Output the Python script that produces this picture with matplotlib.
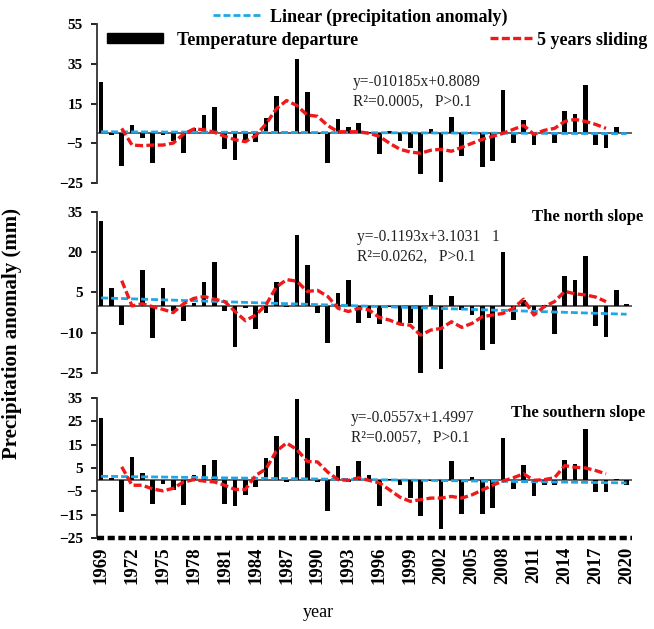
import numpy as np
import matplotlib
matplotlib.use("Agg")
from matplotlib import pyplot as plt
from matplotlib.lines import Line2D
from matplotlib.patches import Patch

plt.rcParams['font.family'] = ['Liberation Serif', 'DejaVu Serif']

years = list(range(1969, 2021))

# whole area
whole = [26, -0.7, -16.3, 4.2, -2.5, -15, -0.8, -3.7, -9.7, 2.5,
         9, 13.5, -8, -13.4, -4.5, -4.5, 7.5, 18.6, 0.3, 37.5,
         20.7, -0.5, -15, 7.2, 3.4, 5, 0.8, -10.6, 1.3, -3.7,
         -7.6, -20.7, 2.2, -24.4, 8.4, -11.6, 0.8, -17, -13.8, 22,
         -4.9, 6.9, -5.9, -0.5, -4.9, 11.4, 9.7, 24.4, -5.9, -7.6,
         3.2, 0.3]
whole_slide = [2.5, -5.9, -6.2, -5.9, -5.9, -4.9, -0.3, 2.2, 1.8, 0.5,
               -1.5, -3.2, -4.2, -1.2, 4.7, 12.3, 16.5, 14, 9.2, 8.6,
               3.9, 0.8, 0.8, 0.8, 0, -1.5, -5, -8, -9.4, -10,
               -8.5, -8, -9, -7, -5, -3, -1.5, 0, 2, 4,
               -0.5, 1.5, 2.5, 6, 7, 6, 4.5, 2.5]

# north slope
north = [31.6, 6.8, -7.3, 0.8, 13.3, -11.9, 6.8, -1.8, -5.6, 1,
         8.9, 16.4, -1.9, -15.3, -0.9, -8.5, -2.5, 8.8, -0.3, 26.3,
         15.4, -2.5, -13.8, 4.8, 9.8, -6.5, -4.6, -6.8, -0.5, -7.2,
         -6.3, -25, 4.1, -23.5, 3.8, -1.5, -3.4, -16.6, -14.3, 20.2,
         -5.3, 2.3, -3.4, 0.5, -10.3, 11, 9.5, 18.6, -7.5, -11.5,
         5.8, 0.6]
north_slide = [9.4, 0, 0.8, -0.3, -1.3, -2.5, 0.8, 2.8, 3.5, 2.5,
               1.6, -2.1, -5.5, -3.4, 0.4, 7, 9.8, 9.2, 5.4, 5.8,
               3.5, -0.9, -2.1, -0.9, -1.5, -4.3, -5.3, -6.8, -7.2, -10.9,
               -9, -8.4, -5.9, -8, -6.5, -4, -3.4, -2.8, -0.9, 2.5,
               -3.4, -0.3, 1.6, 5.4, 4.5, 4.1, 3.3, 1.6]

# southern slope
south = [26.3, 0.8, -13.9, 9.7, 3, -10.4, -1.7, -4.4, -10.7, 1.8,
         6.4, 8.6, -10.4, -11.4, -6.5, -3, 9.4, 18.7, -1, 34.6,
         18, -1, -13.4, 6, -1.2, 8, 1.8, -11.4, 0.4, -2.1,
         -7.9, -15.5, -0.6, -21.3, 7.8, -14.8, 1.1, -14.8, -12, 17.7,
         -4.2, 6.4, -6.9, -2.4, -2.4, 8.4, 6.9, 21.6, -5.1, -5.1,
         0.4, -2.1]
south_slide = [5.5, -2.4, -2.4, -4, -4.8, -3.7, -1, 0, -0.6, -1,
               -2.4, -4.2, -4.2, 1.8, 4.6, 12.2, 15.7, 12.9, 7.8, 7.6,
               3.2, 0, -0.3, 0.8, -0.3, -1.4, -4.4, -7.5, -9.3, -8.6,
               -7.9, -7.9, -7.2, -7.9, -6.5, -4.4, -2.4, -0.6, 0.8, 2.5,
               -0.3, 0, 0.8, 6, 5.3, 5, 3.9, 2.5]

slopes = [-0.0185, -0.1193, -0.0557]
intercepts = [0.8089, 3.1031, 1.4997]
eq_text = ["y=-010185x+0.8089\nR²=0.0005,   P>0.1",
           "y=-0.1193x+3.1031   1\nR²=0.0262,   P>0.1",
           "y=-0.0557x+1.4997\nR²=0.0057,   P>0.1"]
titles = [None, "The north slope", "The southern slope"]
ylims = [(-25, 55), (-25, 35), (-25, 35)]
yticks = [[55, 35, 15, -5, -25], [35, 20, 5, -10, -25],
          [35, 25, 15, 5, -5, -15, -25]]
series = [whole, north, south]
slides = [whole_slide, north_slide, south_slide]

cyan = '#1FA8E8'
red = '#F01818'

fig = plt.figure(figsize=(6.54, 6.29), dpi=100)
rects = [[0.148, 0.709, 0.818, 0.2528],
         [0.148, 0.407, 0.818, 0.256],
         [0.148, 0.1447, 0.818, 0.2226]]
eq_pos = [(0.54, 0.854), (0.546, 0.607), (0.537, 0.32)]
title_pos = [None, (0.983, 0.655), (0.986, 0.343)]

yrs = np.array(years)
for i in range(3):
    ax = fig.add_axes(rects[i])
    ax.bar(yrs, series[i], width=0.45, color='black', zorder=2)
    ax.axhline(0, color='#555555', lw=1.3, zorder=1)
    idx = np.arange(1, len(years) + 1)
    ax.plot(yrs, slopes[i] * idx + intercepts[i], color=cyan, lw=2,
            dashes=(2.5, 1.1), zorder=3)
    ax.plot(yrs[2:2 + len(slides[i])], slides[i], color=red, lw=2.4,
            dashes=(2.4, 1.0), zorder=4)
    ax.set_xlim(1968.58, 2020.5)
    ax.set_ylim(*ylims[i])
    ax.set_yticks(yticks[i])
    ax.tick_params(axis='y', labelsize=11, length=4, width=1.2,
                   direction='out', pad=6)
    for lab in ax.get_yticklabels():
        lab.set_fontweight('bold')
    for s in ['top', 'right', 'bottom']:
        ax.spines[s].set_visible(False)
    ax.spines['left'].set_linewidth(1.3)
    ax.spines['left'].set_color('#333333')
    fig.text(eq_pos[i][0], eq_pos[i][1], eq_text[i], fontsize=11.2,
             va='center', ha='left', linespacing=1.3, color='#222222')
    if titles[i]:
        fig.text(title_pos[i][0], title_pos[i][1], titles[i], fontsize=12,
                 fontweight='bold', ha='right', va='center')
    if i < 2:
        ax.set_xticks([])
    else:
        ax.axhline(-25, color='black', lw=3.2, dashes=(1.6, 0.8), zorder=3,
                   clip_on=False)
        ax.set_xticks(yrs[::3])
        ax.set_xticklabels([str(y) for y in yrs[::3]], rotation=90,
                           fontsize=13.5, fontweight='bold')
        ax.tick_params(axis='x', length=0, pad=6)

# legends
fig.legend(handles=[Line2D([], [], color=cyan, lw=2, dashes=(2.5, 1.1))],
           labels=["Linear (precipitation anomaly)"], loc='center left',
           bbox_to_anchor=(0.326, 0.973), frameon=False,
           handlelength=2.7, handletextpad=0.44, borderpad=0, borderaxespad=0,
           prop={'weight': 'bold', 'size': 13})
fig.legend(handles=[Patch(color='black')], labels=["Temperature departure"],
           loc='center left', bbox_to_anchor=(0.164, 0.936), frameon=False,
           handlelength=3.1, handleheight=0.45, handletextpad=0.78, borderpad=0,
           borderaxespad=0, prop={'weight': 'bold', 'size': 13})
fig.legend(handles=[Line2D([], [], color=red, lw=2.4, dashes=(2.4, 1.0))],
           labels=["5 years sliding"], loc='center left',
           bbox_to_anchor=(0.749, 0.936), frameon=False,
           handlelength=2.5, handletextpad=0.1, borderpad=0, borderaxespad=0,
           prop={'weight': 'bold', 'size': 13})

fig.text(0.018, 0.47, "Precipitation anomaly (mm)", rotation=90, fontsize=15,
         fontweight='bold', ha='center', va='center')
fig.text(0.487, 0.027, "year", fontsize=13, ha='center', va='center')

fig.savefig("out.png", dpi=100)
